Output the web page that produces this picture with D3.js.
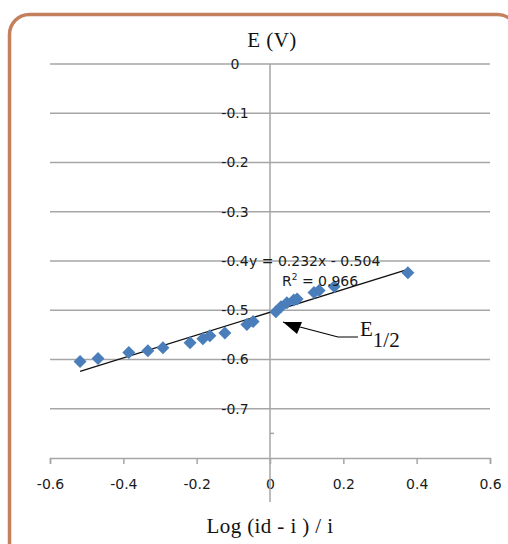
<!DOCTYPE html>
<html>
<head>
<meta charset="utf-8">
<script src="https://cdn.jsdelivr.net/npm/d3@7"></script>
<style>
  html, body { margin: 0; padding: 0; background: #fff; }
  svg { display: block; }
</style>
</head>
<body>
<svg id="chart" width="508" height="544"></svg>
<script>
// Log((id - i)/i) against electrode potential E (V)
const logRatio = [-0.518, -0.469, -0.385, -0.333, -0.292, -0.218, -0.183, -0.164, -0.123, -0.063,
                  -0.046, 0.016, 0.030, 0.046, 0.065, 0.074, 0.120, 0.134, 0.175, 0.376];
const potential = [-0.604, -0.598, -0.586, -0.582, -0.576, -0.566, -0.558, -0.552, -0.546, -0.529,
                   -0.523, -0.503, -0.493, -0.485, -0.479, -0.477, -0.464, -0.460, -0.452, -0.424];
const xTicks = [-0.6, -0.4, -0.2, 0, 0.2, 0.4, 0.6];
const yTicks = [0, -0.1, -0.2, -0.3, -0.4, -0.5, -0.6, -0.7];
const slope = 0.232, intercept = -0.504;
const rSquared = 0.966;

const svg = d3.select("#chart");
const x = d3.scaleLinear().domain([-0.6, 0.6]).range([50, 490]);
const y = d3.scaleLinear().domain([-0.8, 0]).range([458, 64]);
const grid = "#a6a6a6";
const labelFont = "'DejaVu Sans', Verdana, sans-serif";
const serif = "'Liberation Serif', 'DejaVu Serif', serif";
const fmt = d => String(d);   // plain hyphen-minus

// frame
svg.append("rect")
  .attr("x", 9.5).attr("y", 14.5).attr("width", 508).attr("height", 560)
  .attr("rx", 20).attr("ry", 20)
  .attr("fill", "none").attr("stroke", "#c47f5c").attr("stroke-width", 3.5);

// horizontal gridlines
svg.append("g").selectAll("line").data(yTicks).join("line")
  .attr("x1", x(-0.6)).attr("x2", x(0.6))
  .attr("y1", d => y(d)).attr("y2", d => y(d))
  .attr("stroke", grid).attr("stroke-width", 1.5);

// horizontal axis
const xAxis = svg.append("g").attr("transform", `translate(0,${y(-0.8)})`)
  .call(d3.axisBottom(x).tickValues(xTicks).tickSize(6).tickFormat(fmt).tickPadding(15));
xAxis.select(".domain").attr("stroke", grid).attr("stroke-width", 1.5);
xAxis.selectAll(".tick line").attr("stroke", grid).attr("stroke-width", 1.5);
xAxis.selectAll("text").attr("font-family", labelFont)
  .attr("font-size", 14).attr("fill", "#1a1a1a");

// vertical axis through x = 0
svg.append("line")
  .attr("x1", x(0)).attr("x2", x(0))
  .attr("y1", y(0)).attr("y2", y(-0.8) + 44)
  .attr("stroke", grid).attr("stroke-width", 1.5);
svg.append("line")
  .attr("x1", x(0)).attr("x2", x(0) + 4)
  .attr("y1", y(-0.75)).attr("y2", y(-0.75))
  .attr("stroke", grid).attr("stroke-width", 1.5);

// vertical tick labels
svg.append("g").selectAll("text").data(yTicks).join("text")
  .attr("x", 235).attr("y", d => y(d)).attr("dy", "0.35em")
  .attr("text-anchor", "middle")
  .attr("font-family", labelFont)
  .attr("font-size", 14).attr("fill", "#1a1a1a")
  .text(fmt);

// linear fit
const xMin = d3.min(logRatio), xMax = d3.max(logRatio);
svg.append("line")
  .attr("x1", x(xMin)).attr("y1", y(slope * xMin + intercept))
  .attr("x2", x(xMax)).attr("y2", y(slope * xMax + intercept))
  .attr("stroke", "#111").attr("stroke-width", 1.3);

// data points
const pts = d3.zip(logRatio, potential);
const r = 6.5;
svg.append("g").selectAll("path").data(pts).join("path")
  .attr("d", `M0,${-r}L${r},0L0,${r}L${-r},0Z`)
  .attr("transform", d => `translate(${x(d[0])},${y(d[1])})`)
  .attr("fill", "#4a7ebb");

// fit equation
const eq = svg.append("g").attr("font-family", labelFont)
  .attr("font-size", 14).attr("fill", "#1a1a1a");
eq.append("text").attr("x", 249).attr("y", 266)
  .text(`y = ${slope}x - ${Math.abs(intercept)}`);
const r2 = eq.append("text").attr("x", 282).attr("y", 286);
r2.append("tspan").text("R");
r2.append("tspan").attr("font-size", 9).attr("dy", -6).text("2");
r2.append("tspan").attr("dy", 6).text(` = ${rSquared}`);

// half-wave potential annotation
svg.append("polyline")
  .attr("points", "358,337 338,337 300,327 283,322")
  .attr("fill", "none").attr("stroke", "#000").attr("stroke-width", 1.2);
svg.append("path")
  .attr("d", "M283,322 L302,322 L297,334 Z")
  .attr("fill", "#000");

const e12 = svg.append("text").attr("x", 360).attr("y", 336)
  .attr("font-family", serif)
  .attr("font-size", 21).attr("fill", "#111");
e12.append("tspan").text("E");
e12.append("tspan").attr("dy", 11).text("1/2");

// axis titles
svg.append("text").attr("x", 272).attr("y", 47).attr("text-anchor", "middle")
  .attr("font-family", serif)
  .attr("font-size", 21).attr("letter-spacing", 0.5).attr("fill", "#111").text("E (V)");
svg.append("text").attr("x", 270).attr("y", 533).attr("text-anchor", "middle")
  .attr("font-family", serif)
  .attr("font-size", 21).attr("letter-spacing", 0.4).attr("fill", "#111").text("Log (id - i ) / i");
</script>
</body>
</html>
